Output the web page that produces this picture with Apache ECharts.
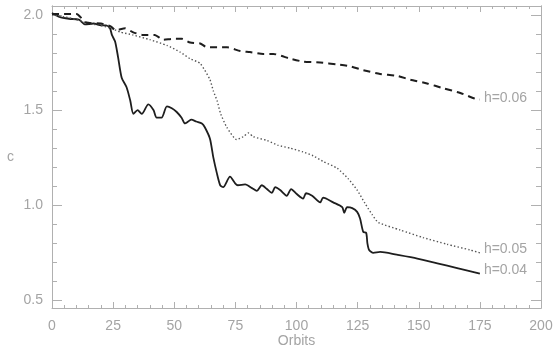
<!DOCTYPE html>
<html>
<head>
<meta charset="utf-8">
<script src="https://cdn.jsdelivr.net/npm/echarts@6/dist/echarts.min.js"></script>
<style>
  html, body { margin: 0; padding: 0; background: #ffffff; }
  #chart { width: 553px; height: 346px; }
</style>
</head>
<body>
<div id="chart"></div>
<script>
// Migration runs: semi-major axis against orbit number for three disc aspect ratios.
const runNames = ['h=0.04', 'h=0.05', 'h=0.06'];

const orbitsH04 = [0, 3, 7, 11, 13.5, 17, 20, 22, 23.7, 24.5, 25.8, 27, 28.5, 30.5, 32,
  33.3, 35, 36.7, 39.4, 41.5, 42.8, 44.8, 47, 49, 51, 53, 54.4, 55.7, 57, 59,
  61.3, 62.5, 64.6, 66, 67.4, 68.8, 70, 72.8, 74.9, 76, 79, 81.8, 83.8, 85.8, 87.9,
  89.9, 91.3, 93.3, 96, 97.8, 100, 102.7, 103.9, 106.4, 109.7, 110.9, 115, 118.7, 119.5, 120.7,
  122.8, 124.8, 126, 127.3, 128.5, 129, 129.7, 131.4, 134.2, 141, 149.4, 157.6, 165.7, 175];
const valuesH04 = [2.01, 1.99, 1.98, 1.975, 1.95, 1.955, 1.945, 1.945, 1.93, 1.895, 1.86, 1.78, 1.67, 1.62, 1.55,
  1.48, 1.50, 1.48, 1.53, 1.50, 1.46, 1.46, 1.52, 1.51, 1.49, 1.46, 1.43, 1.44, 1.45, 1.44,
  1.43, 1.41, 1.35, 1.25, 1.17, 1.105, 1.095, 1.15, 1.115, 1.105, 1.11, 1.09, 1.075, 1.105, 1.085,
  1.065, 1.095, 1.08, 1.05, 1.085, 1.06, 1.035, 1.063, 1.05, 1.015, 1.04, 1.015, 0.99, 0.96, 0.99,
  0.985, 0.965, 0.93, 0.86, 0.855, 0.80, 0.765, 0.75, 0.755, 0.74, 0.72, 0.695, 0.67, 0.64];

const orbitsH05 = [0, 5, 10, 15, 20, 24, 28, 33, 40, 47, 52.4, 56.5, 60.6, 64.6, 66,
  67.5, 69, 71.5, 75.5, 78.2, 80.3, 82.4, 88, 92.5, 97.4, 102.7, 106.8, 110.9, 116.6, 121.1,
  124.8, 128, 131, 133.4, 142.4, 151.8, 161.6, 171, 175];
const valuesH05 = [2.0, 1.99, 1.975, 1.955, 1.945, 1.93, 1.91, 1.895, 1.87, 1.84, 1.805, 1.77, 1.745, 1.66, 1.60,
  1.55, 1.48, 1.41, 1.345, 1.36, 1.38, 1.36, 1.34, 1.315, 1.30, 1.28, 1.26, 1.23, 1.195, 1.14,
  1.08, 1.01, 0.95, 0.91, 0.87, 0.83, 0.795, 0.765, 0.75];

const orbitsH06 = [0, 5, 10, 14, 20, 24, 26, 30, 33, 37, 42, 45.5, 49.6, 53, 56.5,
  60.6, 63.4, 67.5, 71.6, 77, 81, 86.4, 90.5, 97.4, 102.7, 109.7, 116.6, 122, 127.3, 134.2,
  141, 146.5, 153.4, 160, 167, 173, 175];
const valuesH06 = [2.005, 2.005, 2.005, 1.96, 1.955, 1.94, 1.92, 1.93, 1.91, 1.895, 1.895, 1.87, 1.875, 1.875, 1.855,
  1.85, 1.83, 1.83, 1.83, 1.81, 1.805, 1.795, 1.795, 1.77, 1.755, 1.75, 1.74, 1.73, 1.71, 1.69,
  1.68, 1.66, 1.64, 1.615, 1.59, 1.56, 1.555];

// Axis ticks
const yMajorTicks = [0.5, 1.0, 1.5, 2.0];
const yMinorTicks = [0.6, 0.7, 0.8, 0.9, 1.1, 1.2, 1.3, 1.4, 1.6, 1.7, 1.8, 1.9];
const xTickStep = 25;

const axisGray = '#b0b0b0';
const textGray = '#a4a4a4';
const fontFamily = 'Liberation Sans, Arial, sans-serif';

function pairs(xs, ys) {
  return xs.map((x, i) => [x, ys[i]]);
}

function yAxisDef(position, ticks, len, withLabels) {
  const def = {
    type: 'value',
    position: position,
    min: 0.46,
    max: 2.047,
    axisLine: { show: true, lineStyle: { color: axisGray, width: 1 } },
    axisTick: { show: true, inside: true, length: len, customValues: ticks,
      lineStyle: { color: axisGray, width: 1 } },
    axisLabel: { show: false },
    splitLine: { show: false }
  };
  if (withLabels) {
    def.axisLabel = {
      show: true, customValues: yMajorTicks, margin: 9,
      color: textGray, fontSize: 14, fontFamily: fontFamily,
      formatter: v => v.toFixed(1)
    };
    def.name = 'c';
    def.nameLocation = 'middle';
    def.nameRotate = 0;
    def.nameGap = 38;
    def.nameMoveOverlap = false;
    def.nameTextStyle = { color: textGray, fontSize: 14, fontFamily: fontFamily };
  }
  return def;
}

function xAxisDef(position, withLabels) {
  return {
    type: 'value',
    position: position,
    min: 0,
    max: 200,
    interval: xTickStep,
    axisLine: { show: true, lineStyle: { color: axisGray, width: 1 } },
    axisTick: { show: true, inside: true, length: 6, lineStyle: { color: axisGray } },
    minorTick: { show: true, splitNumber: 5, length: 3, lineStyle: { color: axisGray } },
    axisLabel: withLabels ? { show: true, margin: 11, color: textGray, fontSize: 14, fontFamily: fontFamily } : { show: false },
    splitLine: { show: false },
    minorSplitLine: { show: false },
    name: withLabels ? 'Orbits' : '',
    nameLocation: 'middle',
    nameGap: 26,
    nameMoveOverlap: false,
    nameTextStyle: { color: textGray, fontSize: 14, fontFamily: fontFamily }
  };
}

function endLabel(dy) {
  return {
    show: true,
    formatter: p => p.seriesName,
    color: textGray,
    fontSize: 14,
    fontFamily: fontFamily,
    distance: 4,
    offset: [0, dy]
  };
}

const chart = echarts.init(document.getElementById('chart'), null, { renderer: 'canvas' });
chart.setOption({
  animation: false,
  backgroundColor: '#ffffff',
  grid: { left: 52, right: 12, top: 6, bottom: 38, containLabel: false, outerBoundsMode: 'none' },
  xAxis: [xAxisDef('bottom', true), xAxisDef('top', false)],
  yAxis: [
    yAxisDef('left', yMajorTicks, 10, true),
    yAxisDef('left', yMinorTicks, 5, false),
    yAxisDef('right', yMajorTicks, 10, false),
    yAxisDef('right', yMinorTicks, 5, false)
  ],
  series: [
    {
      name: runNames[0], type: 'line', xAxisIndex: 0, yAxisIndex: 0,
      data: pairs(orbitsH04, valuesH04), showSymbol: false, smooth: 0.25,
      lineStyle: { color: '#1e1e1e', width: 1.8 },
      endLabel: endLabel(-4)
    },
    {
      name: runNames[1], type: 'line', xAxisIndex: 0, yAxisIndex: 0,
      data: pairs(orbitsH05, valuesH05), showSymbol: false, smooth: 0.2,
      lineStyle: { color: '#555555', width: 1.4, type: [1.4, 2.2] },
      endLabel: endLabel(-4)
    },
    {
      name: runNames[2], type: 'line', xAxisIndex: 0, yAxisIndex: 0,
      data: pairs(orbitsH06, valuesH06), showSymbol: false, smooth: 0.2,
      lineStyle: { color: '#1e1e1e', width: 2, type: [7, 5] },
      endLabel: endLabel(-1)
    }
  ]
});
</script>
</body>
</html>
